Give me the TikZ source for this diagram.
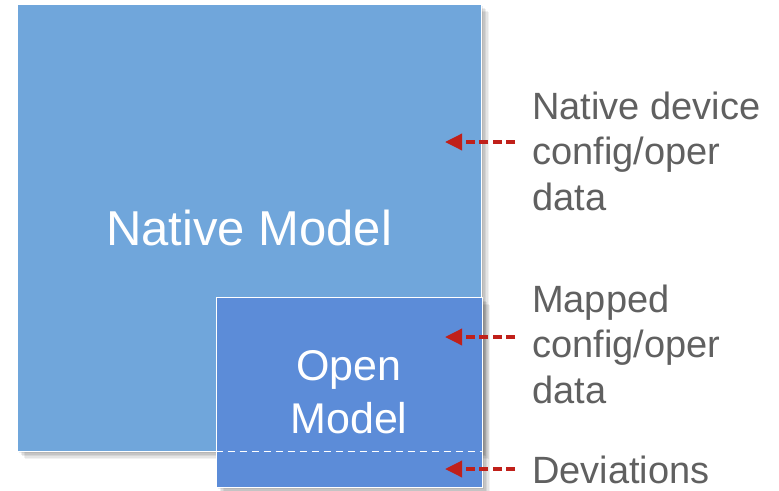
\documentclass[tikz,border=0pt]{standalone}
\usepackage{fontspec}
\setmainfont{Liberation Sans}
\usetikzlibrary{arrows.meta,shadows}

\definecolor{nativeBlue}{HTML}{70A6DB}
\definecolor{openBlue}{HTML}{5C8CD8}
\definecolor{arrowRed}{HTML}{C0201A}
\definecolor{labelGray}{HTML}{606060}

\begin{document}
\begin{tikzpicture}[x=1pt,y=-1pt,
	softShadow/.style={
		general shadow={shadow xshift=2pt, shadow yshift=-2pt, opacity=0.07, fill=black},
		general shadow={shadow xshift=3.5pt, shadow yshift=-3.5pt, opacity=0.07, fill=black},
		general shadow={shadow xshift=5pt, shadow yshift=-5pt, opacity=0.07, fill=black},
		general shadow={shadow xshift=6.5pt, shadow yshift=-6.5pt, opacity=0.06, fill=black},
		general shadow={shadow xshift=8pt, shadow yshift=-8pt, opacity=0.05, fill=black}},
	modelBox/.style={draw=white, line width=1pt, inner sep=0pt, text=white, softShadow},
	sideLabel/.style={anchor=west, inner sep=0pt, align=left, text=labelGray,
		font=\fontsize{38}{45.5}\selectfont},
	dataArrow/.style={arrowRed, line width=3.5pt, dash pattern=on 9pt off 4.5pt,
		-{Triangle[length=17pt,width=16pt]}}]
		\useasboundingbox (0,0) rectangle (779,490);
		
		% The two models
		\node[modelBox, fill=nativeBlue, minimum width=464pt, minimum height=447pt,
			font=\fontsize{49}{59}\selectfont] (native) at (249,227.5) {Native Model};
		\node[modelBox, fill=openBlue, minimum width=266pt, minimum height=190pt,
			align=center, font=\fontsize{43}{53}\selectfont] (open) at (349,392) {Open\\Model};
		
		% Border of the deviations part
		\coordinate (devLeft) at (open.west |- native.south);
		\coordinate (devRight) at (open.east |- native.south);
		\draw[white, line width=1.3pt, dash pattern=on 7pt off 5pt] (devLeft) -- (devRight);
		
		% Arrows from the labels
		\foreach \name/\yy in {nativeData/142, mappedData/337, deviations/469} {
			\coordinate (\name Tip) at (445,\yy);
			\coordinate (\name Tail) at (515,\yy);
			\draw[dataArrow] (\name Tail) -- (\name Tip);
		}
		
		% Labels on the right
		\node[sideLabel] (nativeLabel) at (532,151) {Native device\\config/oper\\data};
		\node[sideLabel] (mappedLabel) at (532,344) {Mapped\\config/oper\\data};
		\node[sideLabel] (deviationsLabel) at (532,470) {Deviations};
	\end{tikzpicture}
\end{document}
